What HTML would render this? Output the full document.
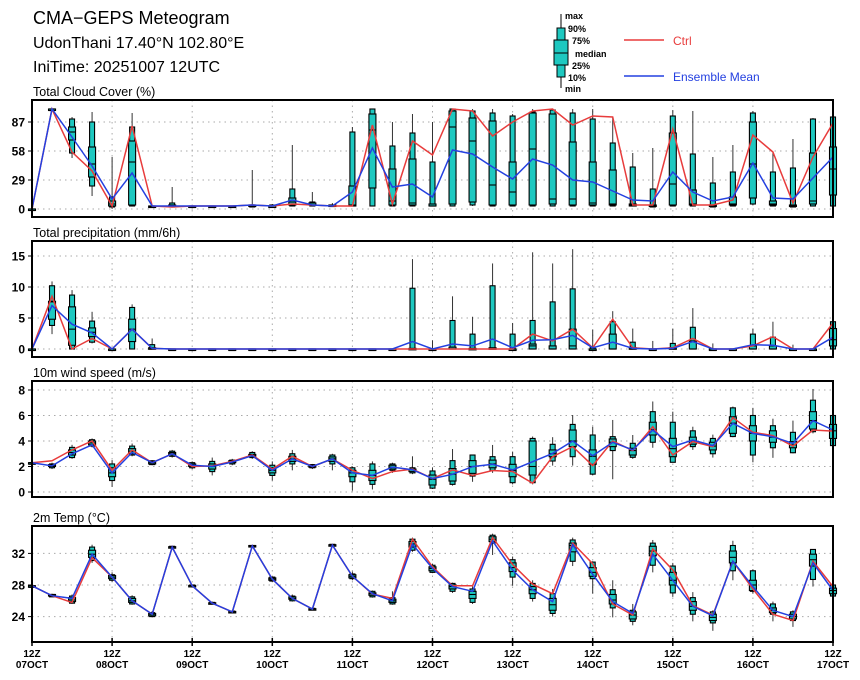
<!DOCTYPE html>
<html><head><meta charset="utf-8"><style>
body{margin:0;background:#fff;}
svg{display:block;font-family:"Liberation Sans",sans-serif;}
</style></head><body>
<svg id="chart" width="860" height="680" viewBox="0 0 860 680" xmlns="http://www.w3.org/2000/svg">
<g>
<text x="33" y="24" font-size="18">CMA−GEPS Meteogram</text>
<text x="33" y="48" font-size="16">UdonThani 17.40°N 102.80°E</text>
<text x="33" y="72" font-size="16">IniTime: 20251007 12UTC</text>
</g>
<g font-size="9" font-weight="bold">
<line x1="561" y1="14" x2="561" y2="88" stroke="#000"/>
<rect x="557" y="28" width="8" height="49" fill="#1ec8c0" stroke="#000"/>
<rect x="554" y="40" width="14" height="25" fill="#1ec8c0" stroke="#000"/>
<line x1="554" y1="53" x2="568" y2="53" stroke="#000"/>
<text x="565" y="19">max</text><text x="568" y="32">90%</text><text x="572" y="44">75%</text>
<text x="575" y="57">median</text><text x="572" y="69">25%</text><text x="568" y="81">10%</text><text x="565" y="92">min</text>
<line x1="624" y1="40" x2="664" y2="40" stroke="#e83c3c" stroke-width="1.5"/>
<text x="673" y="45" fill="#e83c3c" font-size="12" font-weight="normal">Ctrl</text>
<line x1="624" y1="76" x2="664" y2="76" stroke="#2440e0" stroke-width="1.5"/>
<text x="673" y="81" fill="#2440e0" font-size="12" font-weight="normal">Ensemble Mean</text>
</g>
<g id="plots"></g>
</svg>
<script>
// ---- data (index = 6-hourly steps from 12Z 07OCT) ----
const days = ["07OCT","08OCT","09OCT","10OCT","11OCT","12OCT","13OCT","14OCT","15OCT","16OCT","17OCT"];
const cloudCtrl = [0,100,57,38,3,83,3,2,3,3,3,4,3,5,4,3,3,84,5,68,54,100,98,73,87,98,100,84,93,92,4,4,80,4,4,9,74,57,6,52,86];
const cloudMean = [0,100,72,43,10,36,3,3,3,3,3,4,3,9,4,3,17,61,22,25,12,59,55,42,30,50,44,29,27,18,9,8,37,17,8,12,46,11,10,31,52];
const cloudBox = [[0,0,0,0,0,0,0],[100,100,100,100,100,100,100],[51,56,69,77,82,90,92],[13,23,32,45,62,87,97],[0,2,3,5,8,12,52],[3,3,4,47,68,82,96],[2,2,2,2,3,3,3],[2,2,3,3,4,6,22],[2,2,2,2,3,3,3],[2,2,2,2,3,3,3],[2,2,2,2,3,3,3],[2,2,3,3,4,4,39],[2,2,2,3,3,4,5],[3,3,4,7,11,20,64],[3,3,4,4,6,7,17],[3,3,3,3,4,4,6],[3,3,3,4,23,77,82],[3,3,21,79,95,100,100],[3,3,4,8,40,63,87],[3,3,4,6,50,76,95],[3,3,3,3,5,47,87],[3,3,5,82,98,100,100],[3,4,7,68,91,98,100],[3,3,4,24,88,96,100],[3,3,4,17,47,93,95],[3,3,4,60,96,97,100],[3,3,5,10,95,99,100],[3,3,4,10,67,96,100],[3,3,4,6,47,90,100],[3,3,4,5,39,66,92],[3,3,3,4,5,42,56],[2,2,3,3,4,20,61],[3,3,4,25,76,93,99],[3,3,4,5,19,55,98],[2,2,3,3,4,26,52],[3,3,4,5,12,37,64],[4,5,11,45,87,96,98],[3,3,4,5,8,37,56],[2,2,3,3,4,41,70],[3,3,5,8,56,90,91],[3,3,14,40,62,92,93]];
const precCtrl = [0,8.5,0,1.7,0,3.2,0.1,0,0,0,0,0,0,0,0,0,0,0,0,0,0,0,0,0,0,2.4,1.3,3.2,0.2,4.8,0.2,0,0.2,1.7,0,0,0.5,2.0,0,0,4.2];
const precMean = [0,7,4,2.6,0,3.2,0.1,0,0,0,0,0,0,0,0,0,0,0,0,1.2,0,0.8,0.5,1.6,0.2,1.4,1.5,2.2,0.2,1.1,0.1,0,0.1,1.2,0,0,0.7,0.6,0,0,1.9];
const precBox = [[0,0,0,0,0,0,0],[2.4,3.8,4.8,7.6,7.7,10.2,10.9],[0,0,0.6,3.2,6.8,8.7,9.5],[0.9,1.1,2,2.7,3.4,4.5,6],[0,0,0,0,0,0,0],[0,0,1.2,3.2,4.8,6.7,7.2],[0,0,0,0,0.2,0.7,1.7],[0,0,0,0,0,0,0],[0,0,0,0,0,0,0],[0,0,0,0,0,0,0],[0,0,0,0,0,0,0],[0,0,0,0,0,0,0],[0,0,0,0,0,0,0],[0,0,0,0,0,0,0],[0,0,0,0,0,0,0],[0,0,0,0,0,0,0],[0,0,0,0,0,0,0],[0,0,0,0,0,0,0],[0,0,0,0,0,0,0],[0,0,0,0,0.1,9.8,14.5],[0,0,0,0,0,0,1.4],[0,0,0,0,0.3,4.6,8.5],[0,0,0,0,0.1,2.4,5.2],[0,0,0,0,0.2,10.2,13.8],[0,0,0,0,0,2.4,4.2],[0,0,0,0.5,0.8,4.6,15.6],[0,0,0,0,0.5,7.6,13.8],[0,0,0,0.5,3.2,9.7,16.1],[0,0,0,0,0,0.3,3.1],[0,0,0,0,2.4,4.4,6.1],[0,0,0,0,0.2,1.1,3.3],[0,0,0,0,0,0,1.3],[0,0,0,0,0.2,0.9,3.3],[0,0,0,0,1.3,3.5,6.6],[0,0,0,0,0,0,0.9],[0,0,0,0,0,0,0],[0,0,0,0,0.5,2.4,3.3],[0,0,0,0,0.5,1.9,4.4],[0,0,0,0,0,0,0.7],[0,0,0,0,0,0,0],[0,0,0.5,1.5,3.3,4.4,5.0]];
const windCtrl = [2.3,2.45,3.3,4.0,1.7,3.3,2.3,3.0,2.0,2.05,2.4,2.9,1.8,2.8,2.0,2.6,1.7,1.05,1.6,1.8,1.05,1.73,1.3,1.69,1.61,0.7,2.77,3.56,2.07,4.0,3.25,5.12,2.9,3.95,3.56,5.83,4.68,4.42,3.6,4.86,4.78];
const windMean = [2.3,2.05,3.0,3.7,1.5,3.1,2.3,3.0,2.1,2.0,2.35,2.85,1.7,2.6,2.0,2.6,1.5,1.3,1.95,1.75,1.05,1.39,1.99,2.17,1.73,2.38,3.03,4.0,2.85,3.9,3.3,4.86,3.56,4.08,3.64,5.39,4.6,4.34,3.81,5.59,4.86];
const windBox = [[2.3,2.3,2.3,2.3,2.3,2.3,2.3],[1.8,1.9,2.0,2.05,2.15,2.2,2.3],[2.6,2.7,2.9,3.1,3.3,3.5,3.7],[3.5,3.6,3.7,3.85,4.0,4.1,4.2],[0.4,0.9,1.2,1.5,1.9,2.2,2.5],[2.8,2.9,3.0,3.2,3.4,3.6,3.8],[2.1,2.15,2.2,2.3,2.4,2.45,2.5],[2.7,2.8,2.9,3.0,3.1,3.2,3.3],[1.8,1.9,2.0,2.1,2.2,2.3,2.4],[1.3,1.6,1.8,2.0,2.2,2.4,2.7],[2.1,2.2,2.3,2.35,2.45,2.5,2.6],[2.6,2.7,2.8,2.85,2.95,3.1,3.2],[0.9,1.3,1.5,1.7,1.9,2.1,2.4],[1.7,2.2,2.4,2.6,2.8,3.0,3.3],[1.8,1.9,1.95,2.0,2.1,2.15,2.2],[1.7,2.2,2.4,2.6,2.75,2.9,3.0],[0.1,0.8,1.2,1.5,1.7,1.9,2.0],[0.2,0.6,0.9,1.3,1.7,2.2,2.4],[1.5,1.7,1.8,1.95,2.1,2.2,2.3],[1.4,1.5,1.6,1.75,1.8,1.9,2.8],[0.24,0.3,0.55,1.0,1.33,1.65,1.93],[0.5,0.6,0.86,1.4,1.84,2.46,3.37],[0.8,1.25,1.46,2.0,2.46,2.9,2.9],[1.5,1.69,1.9,2.2,2.5,2.77,3.69],[0.6,0.73,1.2,1.7,2.17,2.77,3.17],[0.6,0.73,1.33,2.0,4.0,4.2,4.35],[2.07,2.43,2.77,3.0,3.3,3.74,4.3],[2.07,2.77,3.56,4.0,4.86,5.3,6.04],[1.33,1.4,2.17,2.8,3.3,4.47,5.12],[1.0,3.25,3.56,3.9,4.16,4.34,5.65],[2.6,2.72,2.9,3.25,3.43,3.82,4.47],[3.47,3.9,4.47,4.9,5.47,6.3,7.1],[2.33,2.33,2.77,3.4,4.21,5.47,6.3],[3.3,3.56,3.75,4.0,4.3,4.8,5.12],[2.7,3.0,3.3,3.6,3.9,4.2,4.5],[4.3,4.35,4.6,5.4,5.9,6.6,6.7],[2.33,2.9,4.0,4.6,5.2,6.0,6.6],[2.68,3.47,3.9,4.3,4.8,5.2,5.75],[3.03,3.08,3.47,3.7,3.95,4.68,5.6],[4.6,4.73,4.94,5.6,6.3,7.2,8.08],[3.64,3.64,4.2,4.8,5.3,6.0,6.0]];
const tempCtrl = [27.9,26.65,25.8,31.45,29.0,26.0,24.3,32.8,27.9,25.7,24.6,32.95,28.75,26.3,24.96,33.05,29.1,26.86,26.3,33.8,30.3,27.9,27.9,34.0,30.6,28.1,26.9,33.3,30.7,25.6,24.2,32.56,29.9,25.4,24.2,31.0,27.5,24.3,23.5,31.0,27.8];
const tempMean = [27.9,26.65,26.3,31.9,29.0,26.0,24.3,32.8,27.9,25.7,24.6,32.95,28.75,26.3,24.96,33.05,29.1,26.9,26.0,33.15,30.1,27.8,27.2,33.57,29.9,27.4,25.9,33.1,29.35,25.9,24.4,31.9,28.6,25.3,24.1,31.0,27.8,24.8,24.0,30.8,27.3];
const tempBox = [[27.9,27.9,27.9,27.9,27.9,27.9,27.9],[26.5,26.5,26.6,26.7,26.8,26.8,26.9],[25.6,25.7,25.9,26.1,26.4,26.6,26.8],[30.8,31.1,31.5,31.9,32.4,32.8,33.1],[28.4,28.6,28.8,29.0,29.2,29.3,29.6],[25.5,25.6,25.8,26.0,26.3,26.5,26.7],[23.9,24.0,24.1,24.3,24.4,24.5,24.7],[32.7,32.7,32.75,32.8,32.85,32.9,32.9],[27.8,27.8,27.85,27.9,27.95,28,28],[25.5,25.6,25.65,25.7,25.75,25.8,25.9],[24.5,24.5,24.55,24.6,24.65,24.7,24.7],[32.85,32.9,32.9,32.95,33,33,33.05],[28.4,28.5,28.6,28.75,28.9,29.0,29.1],[25.9,26.0,26.2,26.3,26.5,26.6,26.8],[24.8,24.85,24.9,24.95,25.0,25.05,25.1],[32.9,32.95,33,33.05,33.1,33.15,33.2],[28.6,28.8,28.9,29.1,29.3,29.4,29.7],[26.4,26.5,26.7,26.9,27.0,27.2,27.3],[25.5,25.6,25.8,26.0,26.2,26.4,27.2],[32.2,32.4,32.8,33.2,33.5,33.8,34.0],[29.5,29.6,29.8,30.1,30.3,30.5,30.7],[27.0,27.2,27.5,27.8,28.0,28.2,28.3],[25.6,25.8,26.3,26.8,27.2,27.5,27.8],[31.8,33.3,33.5,33.8,34.1,34.3,34.5],[27.9,29.0,29.7,30.2,30.8,31.2,31.6],[25.9,26.3,26.9,27.4,27.8,28.2,28.6],[24.0,24.4,24.8,25.5,26.3,26.9,27.5],[30.4,31.0,32.2,33.0,33.3,33.7,34.0],[26.9,28.8,29.1,29.6,30.2,30.9,31.0],[23.9,25.1,25.6,26.1,26.8,27.4,28.6],[22.9,23.4,23.7,24.2,24.6,24.8,25.6],[29.6,30.5,31.7,32.3,32.9,33.3,33.7],[26.5,27.0,28.0,28.6,29.6,30.4,30.8],[23.4,24.3,24.8,25.3,25.9,26.4,27.1],[22.2,23.2,23.5,23.9,24.3,24.6,24.8],[28.6,29.8,30.8,31.5,32.3,33.0,33.6],[26.9,27.2,27.3,28.0,28.6,29.8,30.0],[23.4,24.3,24.5,24.8,25.1,25.6,25.9],[22.7,23.5,23.7,24.0,24.3,24.6,24.8],[27.8,28.7,30.4,31.2,31.9,32.5,32.5],[26.6,26.6,26.9,27.3,27.6,28.0,28.1]];
const cloudTicks = [0,29,58,87];
const precTicks = [0,5,10,15];
const windTicks = [0,2,4,6,8];
const tempTicks = [24,28,32];

// ---- layout ----
const NS = "http://www.w3.org/2000/svg";
const X0 = 32, X1 = 833, NSTEP = 40;
function xs(i){ return X0 + i * (X1 - X0) / NSTEP; }
function mk(tag, attrs, parent){ const e = document.createElementNS(NS, tag); for (const k in attrs) e.setAttribute(k, attrs[k]); parent.appendChild(e); return e; }
const root = document.getElementById('plots');

function panel(cfg){
  const g = mk('g', {}, root);
  
  
  const ys = v => cfg.y0 - (v - cfg.v0) * cfg.k;
  cfg.ticks.forEach(t => {
    const gl = mk('line', {x1:X0, x2:X1, y1:ys(t), y2:ys(t), stroke:'#aaa', 'stroke-dasharray':'1.5,4'}, g);
    
    
    const tk = mk('line', {x1:X0-4, x2:X0, y1:ys(t), y2:ys(t), stroke:'#000'}, g);
    
    
    const tl = mk('text', {x:X0-7, y:ys(t)+4.5, 'text-anchor':'end', 'font-size':'12', 'font-weight':'bold'}, g);
    tl.textContent = t;
    
    
  });
  for (let d = 1; d < days.length - 1; d++){
    const vl = mk('line', {x1:xs(d*4), x2:xs(d*4), y1:cfg.top, y2:cfg.bot, stroke:'#aaa', 'stroke-dasharray':'1.5,4'}, g);
    
    
  }
  cfg.box.forEach((b, i) => {
    const x = xs(i);
    const bg = mk('g', {}, g);
    
    
    mk('line', {x1:x, x2:x, y1:ys(b[0]), y2:ys(b[6]), stroke:'#333', 'stroke-width':1}, bg);
    mk('rect', {x:x-2.5, y:ys(b[5]), width:5, height:Math.max(1.5, ys(b[1]) - ys(b[5])), fill:'#1ec8c0', stroke:'#000', 'stroke-width':1.1}, bg);
    mk('rect', {x:x-3.5, y:ys(b[4]), width:7, height:Math.max(1.5, ys(b[2]) - ys(b[4])), fill:'#1ec8c0', stroke:'#000', 'stroke-width':1.1}, bg);
    mk('line', {x1:x-3.5, x2:x+3.5, y1:ys(b[3]), y2:ys(b[3]), stroke:'#000', 'stroke-width':1.1}, bg);
  });
  const pts = arr => arr.map((v, i) => xs(i).toFixed(1) + ',' + ys(v).toFixed(1)).join(' ');
  const rl = mk('polyline', {points:pts(cfg.ctrl), fill:'none', stroke:'#e83c3c', 'stroke-width':1.5}, g);
  
  
  const bl = mk('polyline', {points:pts(cfg.mean), fill:'none', stroke:'#2440e0', 'stroke-width':1.5}, g);
  
  
  const fr = mk('rect', {x:X0, y:cfg.top, width:X1-X0, height:cfg.bot-cfg.top, fill:'none', stroke:'#000', 'stroke-width':2}, g);
  
  
  const tt = mk('text', {x:33, y:cfg.top-4, 'font-size':'12.5'}, g);
  tt.textContent = cfg.title;
  
  
}

panel({name:'cloud', title:'Total Cloud Cover (%)', top:100, bot:217, y0:209, v0:0, k:1.0, ticks:cloudTicks, box:cloudBox, ctrl:cloudCtrl, mean:cloudMean});
panel({name:'precip', title:'Total precipitation (mm/6h)', top:241, bot:357, y0:349, v0:0, k:6.2, ticks:precTicks, box:precBox, ctrl:precCtrl, mean:precMean});
panel({name:'wind', title:'10m wind speed (m/s)', top:381, bot:497, y0:492, v0:0, k:12.75, ticks:windTicks, box:windBox, ctrl:windCtrl, mean:windMean});
panel({name:'temp', title:'2m Temp (\u00B0C)', top:526, bot:642, y0:585, v0:28, k:7.9, ticks:tempTicks, box:tempBox, ctrl:tempCtrl, mean:tempMean});

const xa = mk('g', {}, root);


days.forEach((d, k) => {
  const x = xs(k*4);
  const tk = mk('line', {x1:x, x2:x, y1:638, y2:646, stroke:'#000', 'stroke-width':1.5}, xa);
  
  
  const t1 = mk('text', {x:x, y:657, 'text-anchor':'middle', 'font-size':'10', 'font-weight':'bold'}, xa);
  t1.textContent = '12Z';
  
  
  const t2 = mk('text', {x:x, y:668, 'text-anchor':'middle', 'font-size':'10', 'font-weight':'bold'}, xa);
  t2.textContent = d;
  
  
});
</script>
</body></html>
